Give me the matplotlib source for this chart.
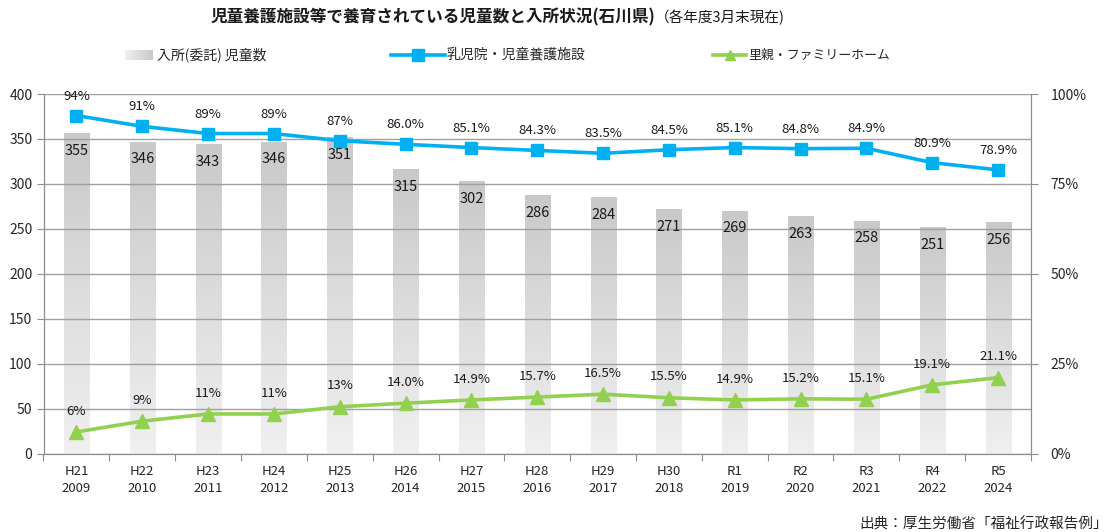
import numpy as np
import matplotlib
matplotlib.use("Agg")
import matplotlib.pyplot as plt
from matplotlib.lines import Line2D
from matplotlib.colors import LinearSegmentedColormap

plt.rcParams['font.family'] = ['Noto Sans CJK JP', 'DejaVu Sans']

# ---- data ----
era_labels = ["H21", "H22", "H23", "H24", "H25", "H26", "H27", "H28", "H29", "H30",
              "R1", "R2", "R3", "R4", "R5"]
year_labels = ["2009", "2010", "2011", "2012", "2013", "2014", "2015", "2016", "2017", "2018",
               "2019", "2020", "2021", "2022", "2024"]
children = [355, 346, 343, 346, 351, 315, 302, 286, 284, 271, 269, 263, 258, 251, 256]
facility_pct = [94, 91, 89, 89, 87, 86.0, 85.1, 84.3, 83.5, 84.5, 85.1, 84.8, 84.9, 80.9, 78.9]
facility_lbl = ["94%", "91%", "89%", "89%", "87%", "86.0%", "85.1%", "84.3%", "83.5%", "84.5%",
                "85.1%", "84.8%", "84.9%", "80.9%", "78.9%"]
foster_pct = [6, 9, 11, 11, 13, 14.0, 14.9, 15.7, 16.5, 15.5, 14.9, 15.2, 15.1, 19.1, 21.1]
foster_lbl = ["6%", "9%", "11%", "11%", "13%", "14.0%", "14.9%", "15.7%", "16.5%", "15.5%",
              "14.9%", "15.2%", "15.1%", "19.1%", "21.1%"]
left_ticks = [0, 50, 100, 150, 200, 250, 300, 350, 400]
right_ticks = [0, 25, 50, 75, 100]

title_bold = "児童養護施設等で養育されている児童数と入所状況(石川県)"
title_norm = "（各年度3月末現在)"
legend_names = ["入所(委託) 児童数", "乳児院・児童養護施設", "里親・ファミリーホーム"]
source = "出典：厚生労働省「福祉行政報告例」"

BLUE = "#00b0f0"
GREEN = "#92d050"
GRID = "#a0a0a0"
AXC = "#8c8c8c"
TXT = "#262626"

W, H = 1114, 532
fig = plt.figure(figsize=(W / 100, H / 100), dpi=100)
ax = fig.add_axes([43.5 / W, 1 - 453.5 / H, (1031 - 43.5) / W, (453.5 - 94) / H])

n = len(children)
x = np.arange(n)
bw = 0.38
bars = ax.bar(x, children, width=bw, color="none", edgecolor="none", zorder=1)
grad = np.linspace(0, 1, 100).reshape(-1, 1)
cmap = LinearSegmentedColormap.from_list("g", ["#f0f0f0", "#c9c9c9"])
for b in bars:
    x0 = b.get_x()
    ax.imshow(grad, extent=(x0, x0 + b.get_width(), 0, b.get_height()), origin="lower",
              aspect="auto", cmap=cmap, zorder=1, interpolation="bilinear")
for xi, v in zip(x, children):
    ax.annotate(str(v), (xi, v), xytext=(0, -12), textcoords="offset points",
                ha="center", va="center", fontsize=10.5, color="#1a1a1a", zorder=3)

ax.set_xlim(-0.5, n - 0.5)
ax.set_ylim(0, 400)
ax.set_yticks(left_ticks)
ax.set_axisbelow(False)
ax.yaxis.grid(True, color=GRID, linewidth=1.0, zorder=2)
ax.set_xticks(np.arange(-0.5, n, 1.0))
ax.set_xticklabels([])
ax.set_xticks(x, minor=True)
ax.set_xticklabels([f"{a}\n{b}" for a, b in zip(era_labels, year_labels)], minor=True,
                   fontsize=9.5, color=TXT, linespacing=1.45)
ax.tick_params(axis="x", which="major", length=5, color=AXC, direction="out")
ax.tick_params(axis="x", which="minor", length=0, pad=8)
ax.tick_params(axis="y", length=5, color=AXC, labelsize=10, labelcolor=TXT, pad=3)
for s in ["left", "bottom", "top", "right"]:
    ax.spines[s].set_color(AXC)
ax.spines["top"].set_visible(False)

ax2 = ax.twinx()
ax2.set_ylim(0, 100)
ax2.set_yticks(right_ticks)
ax2.set_yticklabels([f"{t}%" for t in right_ticks])
ax2.tick_params(axis="y", length=5, color=AXC, labelsize=10, labelcolor=TXT, pad=9)
for s in ["left", "bottom", "top", "right"]:
    ax2.spines[s].set_color(AXC)
ax2.spines["top"].set_visible(False)

ax2.plot(x, facility_pct, color=BLUE, lw=2.6, marker="s", ms=9, zorder=4)
ax2.plot(x, foster_pct, color=GREEN, lw=2.6, marker="^", ms=10, zorder=4)
for xi, v, l in zip(x, facility_pct, facility_lbl):
    ax2.annotate(l, (xi, v), xytext=(0, 14), textcoords="offset points",
                 ha="center", va="center", fontsize=9.5, color="#1a1a1a")
for xi, v, l in zip(x, foster_pct, foster_lbl):
    ax2.annotate(l, (xi, v), xytext=(0, 15), textcoords="offset points",
                 ha="center", va="center", fontsize=9.5, color="#1a1a1a")

# ---- title ----
fig.text(655 / W, 1 - 17 / H, title_bold, ha="right", va="center", fontsize=12,
         fontweight="bold", color="#1a1a1a")
fig.text(655 / W, 1 - 17 / H, title_norm, ha="left", va="center", fontsize=10.5,
         color="#1a1a1a")

# ---- legend (manual) ----
ly = 1 - 55 / H
lax = fig.add_axes([125 / W, 1 - 60 / H, 28 / W, 10 / H])
lax.imshow(np.linspace(0, 1, 50).reshape(1, -1), cmap=cmap, aspect="auto",
           interpolation="bilinear")
lax.axis("off")
fig.text(157 / W, ly, legend_names[0], ha="left", va="center", fontsize=10, color=TXT)

fig.add_artist(Line2D([391 / W, 445 / W], [ly, ly], transform=fig.transFigure,
                      color=BLUE, lw=2.6))
fig.add_artist(Line2D([418 / W], [ly], transform=fig.transFigure, color=BLUE,
                      marker="s", ms=9, lw=0))
fig.text(447 / W, ly, legend_names[1], ha="left", va="center", fontsize=10, color=TXT)

fig.add_artist(Line2D([713 / W, 746 / W], [ly, ly], transform=fig.transFigure,
                      color=GREEN, lw=2.6))
fig.add_artist(Line2D([729.5 / W], [ly], transform=fig.transFigure, color=GREEN,
                      marker="^", ms=7, lw=0))
fig.text(748 / W, ly, legend_names[2], ha="left", va="center", fontsize=9.3, color=TXT)

# ---- source ----
fig.text(1108 / W, 1 - 524 / H, source, ha="right", va="center", fontsize=10.5, color=TXT)

fig.savefig("out.png", dpi=100)
